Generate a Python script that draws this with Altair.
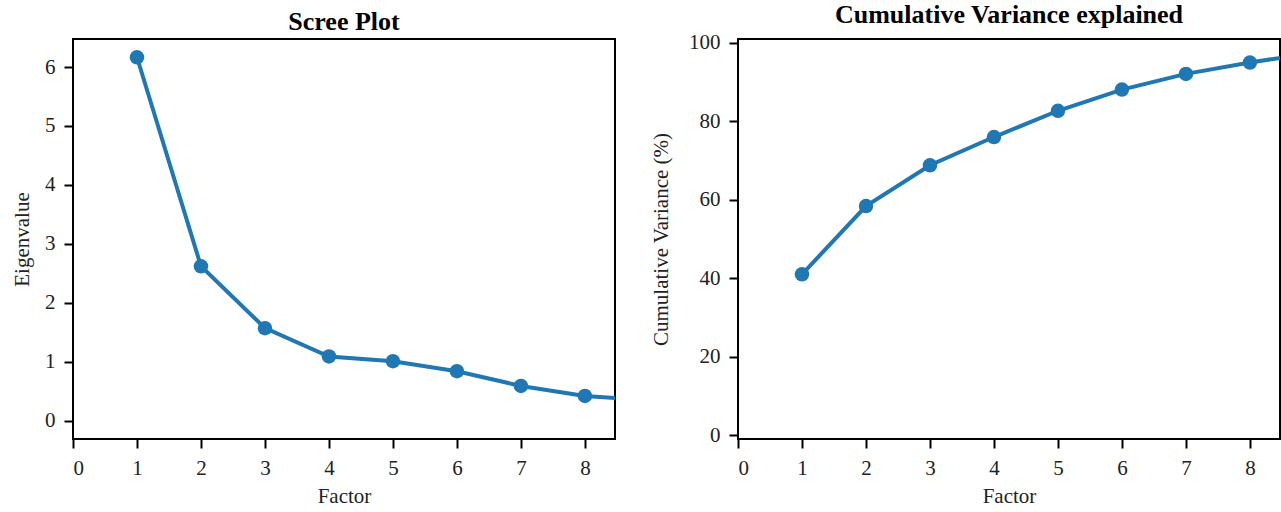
import altair as alt
import pandas as pd

# Factor analysis summary: eigenvalues and cumulative explained variance
factors = [1, 2, 3, 4, 5, 6, 7, 8, 9]
eigenvalues = [6.165, 2.62, 1.57, 1.09, 1.01, 0.84, 0.59, 0.42, 0.345]
cumulative_pct = [41.0, 58.4, 68.8, 76.0, 82.7, 88.1, 92.1, 95.0, 97.5]
x_ticks = [0, 1, 2, 3, 4, 5, 6, 7, 8]

df = pd.DataFrame({"factor": factors, "eig": eigenvalues, "cum": cumulative_pct})

BLUE = "#1f77b4"
FONT = "Liberation Serif"
W, H = 542, 400

x_enc = alt.X(
    "factor:Q",
    title="Factor",
    scale=alt.Scale(domain=[0, 8.47], nice=False, zero=False),
    axis=alt.Axis(values=x_ticks, format="d"),
)


def panel(field, title, ytitle, ydomain, yticks, ytitle_pad):
    y_enc = alt.Y(
        f"{field}:Q",
        title=ytitle,
        scale=alt.Scale(domain=ydomain, nice=False, zero=False),
        axis=alt.Axis(values=yticks, format="d", titlePadding=ytitle_pad),
    )
    base = alt.Chart(df).encode(x=x_enc, y=y_enc)
    line = base.mark_line(color=BLUE, strokeWidth=4, clip=True)
    pts = base.mark_circle(color=BLUE, size=210, opacity=1, clip=True)
    return alt.layer(line, pts).properties(
        width=W,
        height=H,
        title=alt.TitleParams(title, fontSize=26, font=FONT, fontWeight="bold",
                              color="black", offset=2, dy=-2),
    )


left = panel("eig", "Scree Plot", "Eigenvalue", [-0.31, 6.475],
             [0, 1, 2, 3, 4, 5, 6], 12)
right = panel("cum", "Cumulative Variance explained", "Cumulative Variance (%)",
              [-1, 101], [0, 20, 40, 60, 80, 100], 17)

chart = (
    alt.hconcat(left, right, spacing=33)
    .properties(padding={"left": 10, "top": 0, "right": 0, "bottom": 0},
                background="white")
    .configure_view(stroke="black", strokeWidth=2)
    .configure_axis(
        domain=False,
        ticks=True,
        tickColor="black",
        tickWidth=2,
        tickSize=9,
        labelFont=FONT,
        labelFontSize=21,
        labelColor="#222222",
        labelPadding=9,
        titleFont=FONT,
        titleFontSize=21,
        titleFontWeight="normal",
        titleColor="#222222",
        grid=False,
    )
    .configure_axisX(titlePadding=7)
)

chart.save("out.html", embed_options={"renderer": "svg", "actions": False})
